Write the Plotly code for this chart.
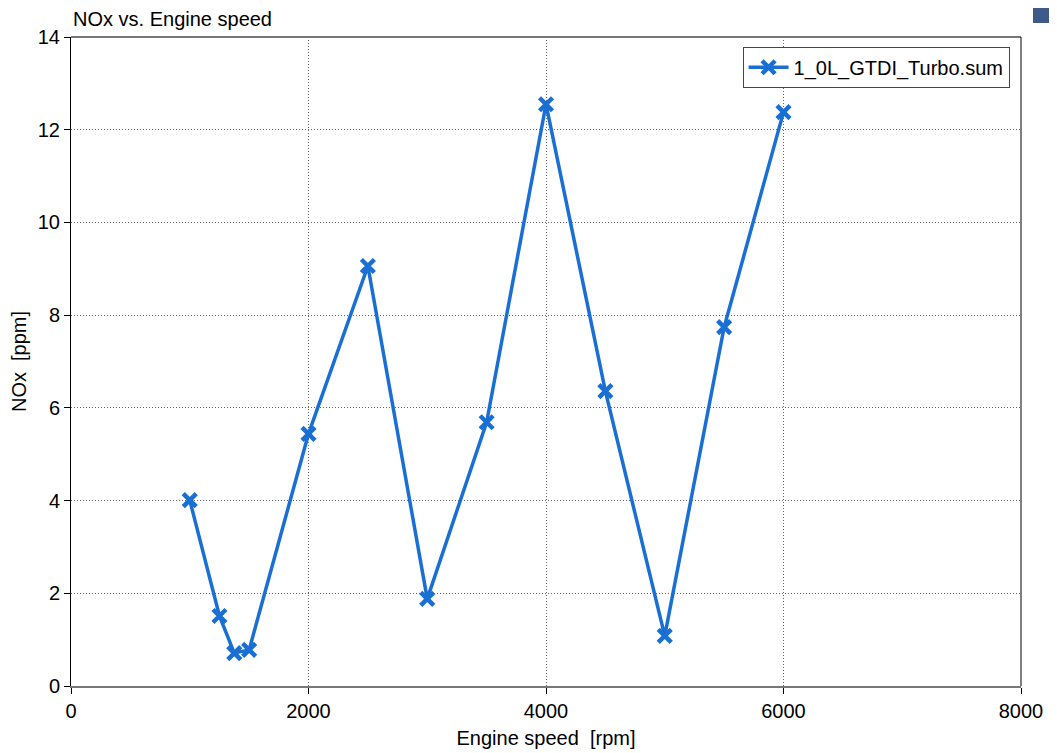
import plotly.graph_objects as go

engine_speed = [1000, 1250, 1375, 1500, 2000, 2500, 3000, 3500, 4000, 4500, 5000, 5500, 6000]
nox_ppm = [4.01, 1.51, 0.71, 0.78, 5.44, 9.06, 1.88, 5.69, 12.55, 6.36, 1.08, 7.74, 12.38]
series_name = "1_0L_GTDI_Turbo.sum"
x_ticks = [0, 2000, 4000, 6000, 8000]
y_ticks = [0, 2, 4, 6, 8, 10, 12, 14]

# page has an 8px body margin, so the figure is 8px smaller than the window
W, H = 1049, 745
L, R, T, B = 63, 36, 29, 67
PW, PH = W - L - R, H - T - B
blue = "#1a6fd4"
font = "Liberation Sans, Arial, sans-serif"
FS = 20

fig = go.Figure()
fig.add_trace(go.Scatter(
    x=engine_speed, y=nox_ppm, mode="lines+markers", name=series_name,
    line=dict(color=blue, width=3.5),
    marker=dict(symbol="x-thin", size=13, color=blue, line=dict(color=blue, width=4.5)),
))

fig.update_layout(
    width=W, height=H,
    margin=dict(l=L, r=R, t=T, b=B, autoexpand=False),
    paper_bgcolor="white", plot_bgcolor="white",
    font=dict(family=font, size=FS, color="black"),
    showlegend=True,
    legend=dict(x=0.988, y=0.985, xanchor="right", yanchor="top",
                bordercolor="#444", borderwidth=1, bgcolor="white",
                font=dict(size=FS, family=font), itemwidth=40),
    xaxis=dict(range=[0, 8000], tickvals=x_ticks, ticks="outside", ticklen=6, tickcolor="black",
               showline=True, linecolor="#777", linewidth=2, mirror=False,
               showgrid=True, gridcolor="#666", griddash="1px,2px", gridwidth=1,
               zeroline=False, tickfont=dict(size=FS), automargin=False,
               title=dict(text="Engine speed  [rpm]", font=dict(size=FS), standoff=10)),
    yaxis=dict(range=[0, 14], tickvals=y_ticks, ticks="outside", ticklen=6, tickcolor="black",
               showline=True, linecolor="black", linewidth=1,
               showgrid=True, gridcolor="#666", griddash="1px,2px", gridwidth=1,
               zeroline=False, tickfont=dict(size=FS), automargin=False,
               title=dict(text="NOx  [ppm]", font=dict(size=FS), standoff=15)),
)

# plot frame: top gray, right black
fig.add_shape(type="line", xref="paper", yref="paper", x0=0, x1=1, y0=1, y1=1,
              line=dict(color="#777", width=2))
fig.add_shape(type="line", xref="paper", yref="paper", x0=1, x1=1, y0=0, y1=1,
              line=dict(color="black", width=1))

fig.add_annotation(text="NOx vs. Engine speed", xref="paper", yref="paper",
                   x=0, y=1, xanchor="left", yanchor="bottom", yshift=5, showarrow=False,
                   font=dict(size=FS, family=font, color="black"))

# small corner widget
fig.add_shape(type="rect", xref="paper", yref="paper",
              x0=(1025 - L) / PW, x1=(1042 - L) / PW,
              y0=(H - B - 15) / PH, y1=(H - B + 10) / PH,
              fillcolor="#3d5a88", line=dict(width=0), layer="above")

fig.write_html("out.html")
